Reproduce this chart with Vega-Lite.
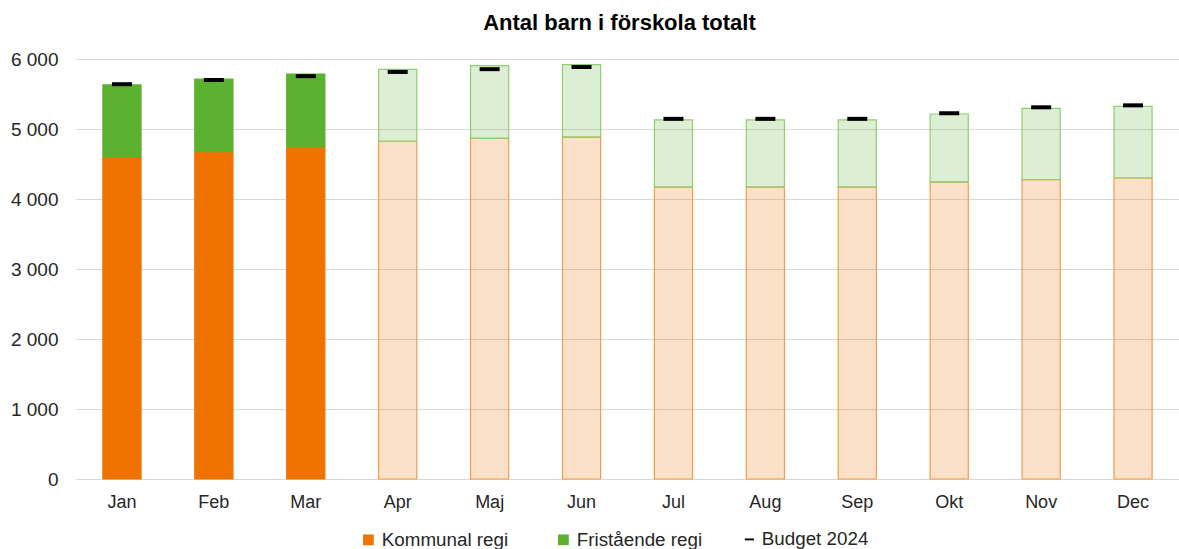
{
  "$schema": "https://vega.github.io/schema/vega-lite/v6.json",
  "autosize": {"type": "none"},
  "padding": {"left": 76, "top": 59, "right": 0, "bottom": 70},
  "width": 1103,
  "height": 420,
  "background": "white",
  "config": {
    "font": "Liberation Sans",
    "view": {"stroke": null},
    "axis": {"labelFont": "Liberation Sans", "labelColor": "#262626", "labelFontSize": 18},
    "legend": {"labelFont": "Liberation Sans", "labelColor": "#262626", "labelFontSize": 18.8}
  },
  "title": {
    "text": "Antal barn i förskola totalt",
    "font": "Liberation Sans",
    "fontSize": 22,
    "fontWeight": "bold",
    "color": "#000000",
    "anchor": "middle",
    "frame": "group",
    "dx": -8,
    "offset": 15
  },
  "data": {
    "values": [
      {"manad": "Jan", "kommunal": 4600, "totalt": 5630, "budget": 5640, "typ": "utfall"},
      {"manad": "Feb", "kommunal": 4675, "totalt": 5712, "budget": 5700, "typ": "utfall"},
      {"manad": "Mar", "kommunal": 4745, "totalt": 5786, "budget": 5755, "typ": "utfall"},
      {"manad": "Apr", "kommunal": 4825, "totalt": 5853, "budget": 5815, "typ": "prognos"},
      {"manad": "Maj", "kommunal": 4865, "totalt": 5904, "budget": 5855, "typ": "prognos"},
      {"manad": "Jun", "kommunal": 4885, "totalt": 5919, "budget": 5885, "typ": "prognos"},
      {"manad": "Jul", "kommunal": 4170, "totalt": 5130, "budget": 5145, "typ": "prognos"},
      {"manad": "Aug", "kommunal": 4170, "totalt": 5130, "budget": 5145, "typ": "prognos"},
      {"manad": "Sep", "kommunal": 4170, "totalt": 5130, "budget": 5145, "typ": "prognos"},
      {"manad": "Okt", "kommunal": 4240, "totalt": 5214, "budget": 5225, "typ": "prognos"},
      {"manad": "Nov", "kommunal": 4275, "totalt": 5295, "budget": 5310, "typ": "prognos"},
      {"manad": "Dec", "kommunal": 4300, "totalt": 5324, "budget": 5338, "typ": "prognos"}
    ]
  },
  "encoding": {
    "x": {
      "field": "manad",
      "type": "nominal",
      "sort": null,
      "title": null,
      "scale": {"paddingInner": 0.585, "paddingOuter": 0.2925},
      "axis": {"labelAngle": 0, "ticks": false, "domainColor": "#D9D9D9", "domainWidth": 1, "labelPadding": 14}
    }
  },
  "layer": [
    {
      "mark": {"type": "bar", "strokeWidth": 1.2},
      "encoding": {
        "y": {
          "field": "kommunal",
          "type": "quantitative",
          "title": null,
          "scale": {"domain": [0, 6000], "nice": false},
          "axis": {
            "values": [0, 1000, 2000, 3000, 4000, 5000, 6000],
            "grid": true,
            "gridColor": "#D9D9D9",
            "domain": false,
            "ticks": false,
            "labelPadding": 18,
            "labelFontSize": 19,
            "labelExpr": "replace(format(datum.value, ',d'), ',', ' ')"
          }
        },
        "color": {
          "datum": "Kommunal regi",
          "scale": {"domain": ["Kommunal regi", "Fristående regi"], "range": ["#F07300", "#5BB130"]},
          "legend": {
            "orient": "none",
            "legendX": 283,
            "legendY": 471,
            "direction": "horizontal",
            "title": null,
            "symbolType": "square",
            "symbolSize": 115,
            "symbolStrokeWidth": 0,
            "symbolOpacity": 1,
            "columnPadding": 45
          }
        },
        "fillOpacity": {"condition": {"test": "datum.typ === 'prognos'", "value": 0.21}, "value": 1},
        "stroke": {"condition": {"test": "datum.typ === 'prognos'", "value": "#F59A4A"}, "value": "#F07300"}
      }
    },
    {
      "mark": {"type": "bar", "strokeWidth": 1.2},
      "encoding": {
        "y": {"field": "kommunal", "type": "quantitative"},
        "y2": {"field": "totalt"},
        "color": {"datum": "Fristående regi"},
        "fillOpacity": {"condition": {"test": "datum.typ === 'prognos'", "value": 0.21}, "value": 1},
        "stroke": {"condition": {"test": "datum.typ === 'prognos'", "value": "#8ED06E"}, "value": "#5BB130"}
      }
    },
    {
      "mark": {"type": "tick", "size": 20, "thickness": 4, "color": "#000000"},
      "encoding": {
        "y": {"field": "budget", "type": "quantitative"},
        "opacity": {
          "datum": "Budget 2024",
          "scale": {"domain": ["Budget 2024"], "range": [1]},
          "legend": {
            "orient": "none",
            "legendX": 664,
            "legendY": 471,
            "title": null,
            "symbolType": "M-1,-0.2H1V0.2H-1Z",
            "symbolSize": 85,
            "symbolFillColor": "#000000",
            "symbolStrokeColor": "#000000",
            "symbolStrokeWidth": 0,
            "labelOffset": 3
          }
        }
      }
    }
  ]
}
